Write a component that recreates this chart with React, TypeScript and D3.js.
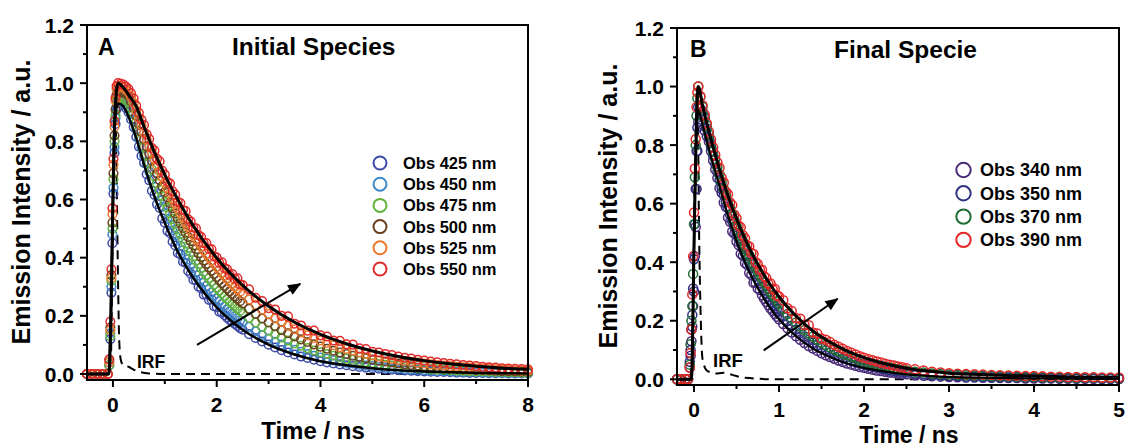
import React from 'react';
import * as d3 from 'd3';

const FONT = '"Liberation Sans", Arial, Helvetica, sans-serif';

// ---------- Panel A : Initial Species ----------
const TIME_A = [-0.5, -0.4, -0.3, -0.2, -0.1,
  -0.07, -0.05, -0.03, -0.01, 0.01, 0.03, 0.05, 0.07,
  0.1, 0.15, 0.2, 0.25, 0.3, 0.35, 0.4, 0.45, 0.5, 0.55,
  0.6, 0.65, 0.7, 0.75, 0.8, 0.85, 0.9, 0.95, 1.0, 1.05,
  1.1, 1.15, 1.2, 1.25, 1.3, 1.35, 1.4, 1.45, 1.5, 1.55,
  1.6, 1.65, 1.7, 1.75, 1.8, 1.85, 1.9, 1.95, 2.0, 2.05,
  2.1, 2.15, 2.2, 2.25, 2.3, 2.35, 2.4, 2.45, 2.5,
  2.625, 2.75, 2.875, 3.0, 3.125, 3.25, 3.375, 3.5, 3.625, 3.75,
  3.875, 4.0, 4.125, 4.25, 4.375, 4.5, 4.625, 4.75, 4.875, 5.0,
  5.125, 5.25, 5.375, 5.5, 5.625, 5.75, 5.875, 6.0, 6.125, 6.25,
  6.375, 6.5, 6.625, 6.75, 6.875, 7.0, 7.125, 7.25, 7.375, 7.5,
  7.625, 7.75, 7.875, 8.0];

const OBS_425 = [0, 0, 0, 0, 0,
  0.03, 0.12, 0.28, 0.45, 0.62, 0.76, 0.86, 0.91,
  0.93, 0.93, 0.925, 0.915, 0.90, 0.875, 0.849, 0.815, 0.782, 0.750,
  0.726, 0.687, 0.666, 0.630, 0.616, 0.584, 0.571, 0.535, 0.520, 0.492,
  0.484, 0.455, 0.442, 0.416, 0.411, 0.386, 0.382, 0.354, 0.345, 0.324,
  0.323, 0.300, 0.294, 0.273, 0.274, 0.255, 0.256, 0.233, 0.230, 0.214,
  0.211, 0.202, 0.194, 0.186, 0.179, 0.172, 0.165, 0.158, 0.152,
  0.137, 0.124, 0.112, 0.101, 0.091, 0.082, 0.074, 0.067, 0.060, 0.055,
  0.049, 0.044, 0.040, 0.036, 0.033, 0.030, 0.027, 0.024, 0.022, 0.020,
  0.018, 0.016, 0.015, 0.013, 0.012, 0.011, 0.010, 0.009, 0.008, 0.007,
  0.007, 0.006, 0.005, 0.005, 0.004, 0.004, 0.004, 0.003, 0.003, 0.003,
  0.002, 0.002, 0.002, 0.002];
const OBS_450 = [0, 0, 0, 0, 0,
  0.04, 0.14, 0.30, 0.48, 0.64, 0.78, 0.88, 0.92,
  0.94, 0.94, 0.935, 0.927, 0.915, 0.895, 0.872, 0.840, 0.809, 0.779,
  0.750, 0.722, 0.695, 0.669, 0.644, 0.620, 0.597, 0.575, 0.554, 0.533,
  0.513, 0.494, 0.476, 0.458, 0.441, 0.425, 0.409, 0.394, 0.379, 0.365,
  0.352, 0.339, 0.326, 0.314, 0.302, 0.291, 0.280, 0.270, 0.260, 0.250,
  0.241, 0.232, 0.223, 0.215, 0.207, 0.199, 0.192, 0.185, 0.178,
  0.162, 0.147, 0.134, 0.122, 0.111, 0.101, 0.092, 0.083, 0.076, 0.069,
  0.063, 0.057, 0.052, 0.047, 0.043, 0.039, 0.036, 0.032, 0.029, 0.027,
  0.024, 0.022, 0.020, 0.018, 0.017, 0.015, 0.014, 0.013, 0.011, 0.010,
  0.010, 0.009, 0.008, 0.007, 0.007, 0.006, 0.005, 0.005, 0.005, 0.004,
  0.004, 0.003, 0.003, 0.003];
const OBS_475 = [0, 0, 0, 0, 0,
  0.03, 0.13, 0.32, 0.50, 0.67, 0.80, 0.89, 0.94,
  0.95, 0.95, 0.948, 0.943, 0.935, 0.917, 0.895, 0.865, 0.835, 0.807,
  0.780, 0.753, 0.728, 0.703, 0.679, 0.656, 0.634, 0.612, 0.592, 0.572,
  0.552, 0.533, 0.515, 0.498, 0.481, 0.465, 0.449, 0.434, 0.419, 0.405,
  0.391, 0.378, 0.365, 0.352, 0.340, 0.329, 0.318, 0.307, 0.296, 0.286,
  0.277, 0.267, 0.258, 0.249, 0.241, 0.233, 0.225, 0.217, 0.210,
  0.193, 0.177, 0.162, 0.149, 0.137, 0.125, 0.115, 0.105, 0.097, 0.089,
  0.081, 0.075, 0.069, 0.063, 0.058, 0.053, 0.049, 0.045, 0.041, 0.037,
  0.034, 0.032, 0.029, 0.027, 0.024, 0.022, 0.021, 0.019, 0.017, 0.016,
  0.015, 0.013, 0.012, 0.011, 0.010, 0.009, 0.009, 0.008, 0.007, 0.007,
  0.006, 0.006, 0.005, 0.005];
const OBS_500 = [0, 0, 0, 0, 0,
  0.05, 0.16, 0.34, 0.52, 0.69, 0.82, 0.91, 0.96,
  0.97, 0.97, 0.968, 0.963, 0.955, 0.937, 0.915, 0.887, 0.859, 0.832,
  0.807, 0.782, 0.757, 0.734, 0.711, 0.689, 0.667, 0.646, 0.626, 0.607,
  0.588, 0.570, 0.552, 0.535, 0.518, 0.502, 0.486, 0.471, 0.457, 0.442,
  0.429, 0.415, 0.402, 0.390, 0.378, 0.366, 0.355, 0.344, 0.333, 0.322,
  0.312, 0.302, 0.293, 0.284, 0.275, 0.266, 0.258, 0.250, 0.243,
  0.224, 0.207, 0.191, 0.177, 0.164, 0.151, 0.140, 0.129, 0.119, 0.110,
  0.102, 0.094, 0.087, 0.080, 0.074, 0.069, 0.063, 0.059, 0.054, 0.050,
  0.046, 0.043, 0.040, 0.036, 0.034, 0.031, 0.029, 0.027, 0.025, 0.023,
  0.021, 0.019, 0.018, 0.016, 0.015, 0.014, 0.013, 0.012, 0.011, 0.010,
  0.010, 0.009, 0.008, 0.008];
const OBS_525 = [0, 0, 0, 0, 0,
  0.04, 0.15, 0.33, 0.55, 0.72, 0.85, 0.94, 0.98,
  0.99, 0.99, 0.985, 0.978, 0.97, 0.952, 0.932, 0.905, 0.880, 0.855,
  0.830, 0.806, 0.783, 0.761, 0.739, 0.718, 0.697, 0.677, 0.658, 0.639,
  0.621, 0.603, 0.586, 0.569, 0.553, 0.537, 0.521, 0.506, 0.492, 0.478,
  0.464, 0.451, 0.438, 0.425, 0.413, 0.401, 0.390, 0.379, 0.368, 0.357,
  0.347, 0.337, 0.327, 0.318, 0.309, 0.300, 0.291, 0.283, 0.275,
  0.256, 0.238, 0.221, 0.206, 0.191, 0.178, 0.165, 0.154, 0.143, 0.133,
  0.124, 0.115, 0.107, 0.099, 0.092, 0.086, 0.080, 0.074, 0.069, 0.064,
  0.060, 0.056, 0.052, 0.048, 0.045, 0.042, 0.039, 0.036, 0.033, 0.031,
  0.029, 0.027, 0.025, 0.023, 0.022, 0.020, 0.019, 0.018, 0.016, 0.015,
  0.014, 0.013, 0.012, 0.011];
const OBS_550 = [0, 0, 0, 0, 0,
  0.05, 0.18, 0.36, 0.57, 0.74, 0.87, 0.95, 0.99,
  1.0, 0.998, 0.995, 0.988, 0.98, 0.965, 0.947, 0.922, 0.898, 0.874,
  0.856, 0.824, 0.808, 0.777, 0.768, 0.740, 0.731, 0.699, 0.686, 0.661,
  0.655, 0.628, 0.617, 0.592, 0.588, 0.564, 0.560, 0.532, 0.524, 0.503,
  0.501, 0.478, 0.471, 0.450, 0.450, 0.430, 0.429, 0.405, 0.400, 0.382,
  0.384, 0.364, 0.360, 0.341, 0.344, 0.327, 0.329, 0.308, 0.306,
  0.291, 0.262, 0.251, 0.226, 0.222, 0.200, 0.198, 0.173, 0.167, 0.149,
  0.149, 0.133, 0.129, 0.115, 0.114, 0.102, 0.101, 0.088, 0.086, 0.076,
  0.074, 0.069, 0.065, 0.060, 0.056, 0.053, 0.049, 0.046, 0.043, 0.040,
  0.038, 0.035, 0.033, 0.031, 0.029, 0.027, 0.025, 0.023, 0.022, 0.020,
  0.019, 0.018, 0.017, 0.016];

const LABELS_A = ['Obs 425 nm', 'Obs 450 nm', 'Obs 475 nm', 'Obs 500 nm', 'Obs 525 nm', 'Obs 550 nm'];
const COLORS_A = ['#3d4aa6', '#3f86c6', '#62b23c', '#6b4020', '#e8792c', '#e02b2b'];

const FIT_A_TIME = [-0.5, -0.08, -0.04, 0, 0.04, 0.1, 0.2, 0.3, 0.45, 0.6, 0.8, 1.0, 1.25, 1.5, 2, 2.5, 3, 3.5, 4, 4.5, 5, 5.5, 6, 6.5, 7, 7.5, 8];
const FIT_550 = [0, 0, 0.2, 0.6, 0.9, 1.0, 0.985, 0.96, 0.92, 0.85, 0.763, 0.685, 0.6, 0.523, 0.399, 0.305, 0.233, 0.178, 0.136, 0.104, 0.079, 0.06, 0.046, 0.035, 0.027, 0.02, 0.016];
const FIT_425 = [0, 0, 0.2, 0.6, 0.88, 0.93, 0.92, 0.885, 0.81, 0.72, 0.611, 0.519, 0.42, 0.344, 0.229, 0.152, 0.101, 0.067, 0.044, 0.030, 0.020, 0.013, 0.009, 0.006, 0.004, 0.003, 0.002];

const IRF_A_TIME = [-0.5, -0.08, -0.04, 0, 0.04, 0.08, 0.1, 0.12, 0.15, 0.2, 0.3, 0.4, 0.5, 0.7, 1.0, 8];
const IRF_A = [0, 0, 0.05, 0.6, 1.0, 0.55, 0.3, 0.12, 0.05, 0.03, 0.025, 0.015, 0.008, 0.002, 0, 0];

// ---------- Panel B : Final Specie ----------
const TIME_B = [-0.2, -0.15, -0.1, -0.07,
  -0.05, -0.04, -0.03, -0.02, -0.01, 0, 0.01, 0.02, 0.03, 0.04,
  0.05, 0.075, 0.1, 0.125, 0.15, 0.175, 0.2, 0.225, 0.25, 0.275,
  0.3, 0.325, 0.35, 0.375, 0.4, 0.425, 0.45, 0.475, 0.5, 0.525,
  0.55, 0.575, 0.6, 0.625, 0.65, 0.675, 0.7, 0.725, 0.75, 0.775,
  0.8, 0.825, 0.85, 0.875, 0.9, 0.925, 0.95, 0.975, 1.0,
  1.05, 1.1, 1.15, 1.2, 1.25, 1.3, 1.35, 1.4, 1.45, 1.5,
  1.55, 1.6, 1.65, 1.7, 1.75, 1.8, 1.85, 1.9, 1.95, 2.0,
  2.05, 2.1, 2.15, 2.2, 2.25, 2.3, 2.35, 2.4, 2.45, 2.5,
  2.6, 2.7, 2.8, 2.9, 3.0, 3.1, 3.2, 3.3, 3.4, 3.5,
  3.6, 3.7, 3.8, 3.9, 4.0, 4.1, 4.2, 4.3, 4.4, 4.5,
  4.6, 4.7, 4.8, 4.9, 5.0];

const OBS_340 = [0, 0, 0, 0,
  0.04, 0.08, 0.13, 0.18, 0.25, 0.30, 0.42, 0.52, 0.65, 0.78,
  0.88, 0.88, 0.87, 0.85, 0.83, 0.812, 0.779, 0.747, 0.717, 0.688,
  0.653, 0.637, 0.604, 0.589, 0.553, 0.538, 0.505, 0.497, 0.471, 0.459,
  0.429, 0.422, 0.397, 0.391, 0.363, 0.356, 0.330, 0.330, 0.310, 0.305,
  0.287, 0.275, 0.264, 0.253, 0.242, 0.233, 0.223, 0.214, 0.205,
  0.189, 0.174, 0.160, 0.147, 0.135, 0.124, 0.114, 0.105, 0.097, 0.089,
  0.082, 0.076, 0.070, 0.064, 0.059, 0.054, 0.050, 0.046, 0.042, 0.039,
  0.036, 0.033, 0.030, 0.028, 0.026, 0.023, 0.022, 0.020, 0.018, 0.017,
  0.014, 0.012, 0.010, 0.009, 0.008, 0.007, 0.006, 0.006, 0.005, 0.005,
  0.004, 0.004, 0.004, 0.003, 0.003, 0.003, 0.003, 0.002, 0.002, 0.002,
  0.002, 0.002, 0.001, 0.001, 0.001];
const OBS_350 = [0, 0, 0, 0,
  0.06, 0.10, 0.17, 0.22, 0.31, 0.41, 0.53, 0.65, 0.78, 0.86,
  0.93, 0.925, 0.915, 0.891, 0.857, 0.825, 0.794, 0.764, 0.735, 0.707,
  0.681, 0.655, 0.630, 0.606, 0.584, 0.562, 0.540, 0.520, 0.500, 0.481,
  0.463, 0.446, 0.429, 0.413, 0.397, 0.382, 0.368, 0.354, 0.341, 0.328,
  0.315, 0.303, 0.292, 0.281, 0.270, 0.260, 0.250, 0.241, 0.232,
  0.215, 0.199, 0.184, 0.170, 0.158, 0.146, 0.135, 0.125, 0.116, 0.107,
  0.099, 0.092, 0.085, 0.079, 0.073, 0.068, 0.063, 0.058, 0.054, 0.050,
  0.046, 0.043, 0.040, 0.037, 0.034, 0.031, 0.029, 0.027, 0.025, 0.023,
  0.020, 0.017, 0.015, 0.013, 0.011, 0.010, 0.009, 0.009, 0.008, 0.007,
  0.007, 0.006, 0.006, 0.005, 0.005, 0.005, 0.004, 0.004, 0.004, 0.003,
  0.003, 0.003, 0.003, 0.002, 0.002];
const OBS_370 = [0, 0, 0, 0,
  0.05, 0.12, 0.20, 0.25, 0.36, 0.53, 0.69, 0.80, 0.90, 0.96,
  1.0, 0.965, 0.931, 0.898, 0.867, 0.836, 0.807, 0.779, 0.752, 0.725,
  0.700, 0.675, 0.651, 0.629, 0.607, 0.585, 0.565, 0.545, 0.526, 0.507,
  0.490, 0.472, 0.456, 0.440, 0.424, 0.409, 0.395, 0.381, 0.368, 0.355,
  0.343, 0.331, 0.319, 0.308, 0.297, 0.287, 0.277, 0.267, 0.258,
  0.240, 0.223, 0.208, 0.194, 0.180, 0.168, 0.156, 0.146, 0.136, 0.126,
  0.117, 0.109, 0.102, 0.095, 0.088, 0.082, 0.076, 0.071, 0.066, 0.062,
  0.058, 0.054, 0.050, 0.046, 0.043, 0.040, 0.037, 0.035, 0.032, 0.030,
  0.026, 0.023, 0.020, 0.018, 0.016, 0.015, 0.014, 0.013, 0.012, 0.011,
  0.010, 0.010, 0.009, 0.008, 0.008, 0.007, 0.007, 0.006, 0.006, 0.005,
  0.005, 0.005, 0.004, 0.004, 0.004];
const OBS_390 = [0, 0, 0, 0,
  0.04, 0.09, 0.17, 0.29, 0.42, 0.57, 0.72, 0.82, 0.93, 0.98,
  1.0, 0.967, 0.936, 0.905, 0.875, 0.847, 0.819, 0.792, 0.766, 0.741,
  0.723, 0.689, 0.672, 0.641, 0.632, 0.604, 0.595, 0.562, 0.550, 0.525,
  0.519, 0.492, 0.482, 0.457, 0.454, 0.431, 0.428, 0.401, 0.394, 0.374,
  0.374, 0.352, 0.346, 0.326, 0.327, 0.308, 0.309, 0.286, 0.283,
  0.270, 0.243, 0.233, 0.209, 0.207, 0.186, 0.185, 0.160, 0.156, 0.139,
  0.135, 0.127, 0.118, 0.111, 0.104, 0.097, 0.091, 0.085, 0.079, 0.074,
  0.069, 0.065, 0.061, 0.057, 0.053, 0.050, 0.047, 0.044, 0.041, 0.038,
  0.034, 0.030, 0.026, 0.023, 0.021, 0.019, 0.018, 0.017, 0.016, 0.015,
  0.014, 0.013, 0.012, 0.011, 0.011, 0.010, 0.009, 0.009, 0.008, 0.008,
  0.007, 0.007, 0.006, 0.006, 0.006];

const LABELS_B = ['Obs 340 nm', 'Obs 350 nm', 'Obs 370 nm', 'Obs 390 nm'];
const COLORS_B = ['#4a2b78', '#2d3180', '#1f6b32', '#e32626'];

const FIT_B_TIME = [-0.2, -0.03, 0, 0.03, 0.05, 0.1, 0.2, 0.3, 0.4, 0.5, 0.6, 0.7, 0.8, 0.9, 1.0, 1.2, 1.4, 1.6, 1.8, 2.0, 2.25, 2.5, 2.75, 3, 3.5, 4, 4.5, 5];
const FIT_390 = [0, 0, 0.45, 0.9, 1.0, 0.936, 0.819, 0.717, 0.627, 0.549, 0.48, 0.42, 0.368, 0.322, 0.282, 0.216, 0.165, 0.127, 0.097, 0.074, 0.053, 0.038, 0.028, 0.021, 0.015, 0.011, 0.008, 0.006];
const FIT_340 = [0, 0, 0.45, 0.85, 0.92, 0.87, 0.76, 0.66, 0.558, 0.472, 0.400, 0.338, 0.287, 0.242, 0.205, 0.147, 0.105, 0.076, 0.054, 0.039, 0.026, 0.017, 0.012, 0.008, 0.005, 0.003, 0.002, 0.001];

const IRF_B_TIME = [-0.2, -0.05, -0.02, 0.01, 0.04, 0.06, 0.08, 0.1, 0.15, 0.25, 0.35, 0.45, 0.6, 1.0, 5];
const IRF_B = [0, 0, 0.1, 0.7, 1.0, 0.5, 0.2, 0.07, 0.03, 0.02, 0.022, 0.015, 0.005, 0, 0];

// ---------- Axes ----------
const Y_MAJOR = [0, 0.2, 0.4, 0.6, 0.8, 1.0, 1.2];
const Y_MINOR = [0.1, 0.3, 0.5, 0.7, 0.9, 1.1];
const X_MAJOR_A = [0, 2, 4, 6, 8];
const X_MINOR_A = [1, 3, 5, 7];
const X_MAJOR_B = [0, 1, 2, 3, 4, 5];
const X_MINOR_B = [0.5, 1.5, 2.5, 3.5, 4.5];

const zip = (t: number[], v: number[]) => {
  const n = Math.min(t.length, v.length);
  const out: [number, number][] = [];
  for (let i = 0; i < n; i++) out.push([t[i], v[i]]);
  return out;
};

const PANELS = [
  {
    id: 'A', letter: 'A', title: 'Initial Species',
    left: 87, right: 528, top: 25, bottom: 380,
    xDomain: [-0.5, 8], yDomain: [-0.0206, 1.2],
    xMajor: X_MAJOR_A, xMinor: X_MINOR_A,
    time: TIME_A,
    series: [OBS_425, OBS_450, OBS_475, OBS_500, OBS_525, OBS_550].map((v, i) => ({ values: v, label: LABELS_A[i], color: COLORS_A[i] })),
    fits: [{ t: FIT_A_TIME, v: FIT_425, w: 2.5 }, { t: FIT_A_TIME, v: FIT_550, w: 3 }],
    irf: { t: IRF_A_TIME, v: IRF_A },
    arrow: [[1.62, 0.10], [3.61, 0.31]],
    irfLabel: { x: 137, y: 368, size: 17.5 },
    letterPos: { x: 98, y: 55, size: 23 },
    titlePos: { x: 232, y: 55, size: 24.5 },
    legend: { cx: 380, y0: 163, dy: 21.2, tx: 403, size: 16.5, r: 6.5 },
    ylab: { x: 30, y: 202 },
    xlab: { x: 313, y: 439, size: 24 },
    tickDy: 32,
    dotR: 4.3,
  },
  {
    id: 'B', letter: 'B', title: 'Final Specie',
    left: 677, right: 1119, top: 28, bottom: 385,
    xDomain: [-0.2, 5], yDomain: [-0.0195, 1.2],
    xMajor: X_MAJOR_B, xMinor: X_MINOR_B,
    time: TIME_B,
    series: [OBS_340, OBS_350, OBS_370, OBS_390].map((v, i) => ({ values: v, label: LABELS_B[i], color: COLORS_B[i] })),
    fits: [{ t: FIT_B_TIME, v: FIT_340, w: 2.2 }, { t: FIT_B_TIME, v: FIT_390, w: 3 }],
    irf: { t: IRF_B_TIME, v: IRF_B },
    arrow: [[0.82, 0.099], [1.69, 0.275]],
    irfLabel: { x: 713, y: 367, size: 18.5 },
    letterPos: { x: 690, y: 57, size: 23 },
    titlePos: { x: 834, y: 58, size: 24.5 },
    legend: { cx: 963.5, y0: 170, dy: 23.3, tx: 980, size: 18, r: 7.2 },
    ylab: { x: 617, y: 206 },
    xlab: { x: 909, y: 442.5, size: 23 },
    tickDy: 31.5,
    dotR: 4.5,
  },
];

function Panel({ cfg }: { cfg: any }) {
  const x = d3.scaleLinear().domain(cfg.xDomain).range([cfg.left, cfg.right]);
  const y = d3.scaleLinear().domain(cfg.yDomain).range([cfg.bottom, cfg.top]);
  const line = d3.line<[number, number]>().x(d => x(d[0])).y(d => y(d[1])).curve(d3.curveMonotoneX);
  const fmt = d3.format('.1f');
  const [a0, a1] = cfg.arrow;
  return (
    <g>
      <defs>
        <marker id={`arrow-${cfg.id}`} viewBox="0 0 12 10" refX="11" refY="5" markerWidth="14" markerHeight="11" markerUnits="userSpaceOnUse" orient="auto">
          <path d="M0,0 L12,5 L0,10 Z" fill="#000" />
        </marker>
      </defs>
      <path d={line(zip(cfg.irf.t, cfg.irf.v)) || ''} fill="none" stroke="#000" strokeWidth={2} strokeDasharray="9 6" />
      {cfg.series.map((s: any, si: number) => (
        <g key={si}>
          {zip(cfg.time, s.values).map((d, i) => (
            <circle key={i} cx={x(d[0])} cy={y(d[1])} r={cfg.dotR} fill="none" stroke={s.color} strokeWidth={1.5} />
          ))}
        </g>
      ))}
      {cfg.fits.map((f: any, i: number) => (
        <path key={i} d={line(zip(f.t, f.v)) || ''} fill="none" stroke="#000" strokeWidth={f.w} strokeLinejoin="round" />
      ))}
      <line x1={x(a0[0])} y1={y(a0[1])} x2={x(a1[0])} y2={y(a1[1])} stroke="#000" strokeWidth={2} markerEnd={`url(#arrow-${cfg.id})`} />
      <rect x={cfg.left} y={cfg.top} width={cfg.right - cfg.left} height={cfg.bottom - cfg.top} fill="none" stroke="#000" strokeWidth={2} />
      {Y_MAJOR.map(v => (
        <g key={'ym' + v}>
          <line x1={cfg.left - 7} x2={cfg.left} y1={y(v)} y2={y(v)} stroke="#000" strokeWidth={2} />
          <text x={cfg.left - 13} y={y(v)} dy="0.36em" textAnchor="end" fontFamily={FONT} fontWeight="bold" fontSize={21}>{fmt(v)}</text>
        </g>
      ))}
      {Y_MINOR.map(v => (
        <line key={'yn' + v} x1={cfg.left - 4} x2={cfg.left} y1={y(v)} y2={y(v)} stroke="#000" strokeWidth={2} />
      ))}
      {cfg.xMajor.map((v: number) => (
        <g key={'xm' + v}>
          <line x1={x(v)} x2={x(v)} y1={cfg.bottom} y2={cfg.bottom + 7} stroke="#000" strokeWidth={2} />
          <text x={x(v)} y={cfg.bottom + cfg.tickDy} textAnchor="middle" fontFamily={FONT} fontWeight="bold" fontSize={21}>{v}</text>
        </g>
      ))}
      {cfg.xMinor.map((v: number) => (
        <line key={'xn' + v} x1={x(v)} x2={x(v)} y1={cfg.bottom} y2={cfg.bottom + 4} stroke="#000" strokeWidth={2} />
      ))}
      <text transform={`translate(${cfg.ylab.x},${cfg.ylab.y}) rotate(-90)`} textAnchor="middle" fontFamily={FONT} fontWeight="bold" fontSize={25}>Emission Intensity / a.u.</text>
      <text x={cfg.xlab.x} y={cfg.xlab.y} textAnchor="middle" fontFamily={FONT} fontWeight="bold" fontSize={cfg.xlab.size}>Time / ns</text>
      <text x={cfg.letterPos.x} y={cfg.letterPos.y} fontFamily={FONT} fontWeight="bold" fontSize={cfg.letterPos.size}>{cfg.letter}</text>
      <text x={cfg.titlePos.x} y={cfg.titlePos.y} fontFamily={FONT} fontWeight="bold" fontSize={cfg.titlePos.size}>{cfg.title}</text>
      <text x={cfg.irfLabel.x} y={cfg.irfLabel.y} fontFamily={FONT} fontWeight="bold" fontSize={cfg.irfLabel.size}>IRF</text>
      {cfg.series.map((s: any, i: number) => (
        <g key={'lg' + i}>
          <circle cx={cfg.legend.cx} cy={cfg.legend.y0 + i * cfg.legend.dy} r={cfg.legend.r} fill="none" stroke={s.color} strokeWidth={2} />
          <text x={cfg.legend.tx} y={cfg.legend.y0 + i * cfg.legend.dy} dy="0.36em" fontFamily={FONT} fontWeight="bold" fontSize={cfg.legend.size}>{s.label}</text>
        </g>
      ))}
    </g>
  );
}

export default function App() {
  return (
    <svg width={1126} height={448} style={{ position: 'absolute', left: 0, top: 0, background: '#fff' }}>
      <rect x={0} y={0} width={1126} height={448} fill="#fff" />
      {PANELS.map(p => <Panel key={p.id} cfg={p} />)}
    </svg>
  );
}
